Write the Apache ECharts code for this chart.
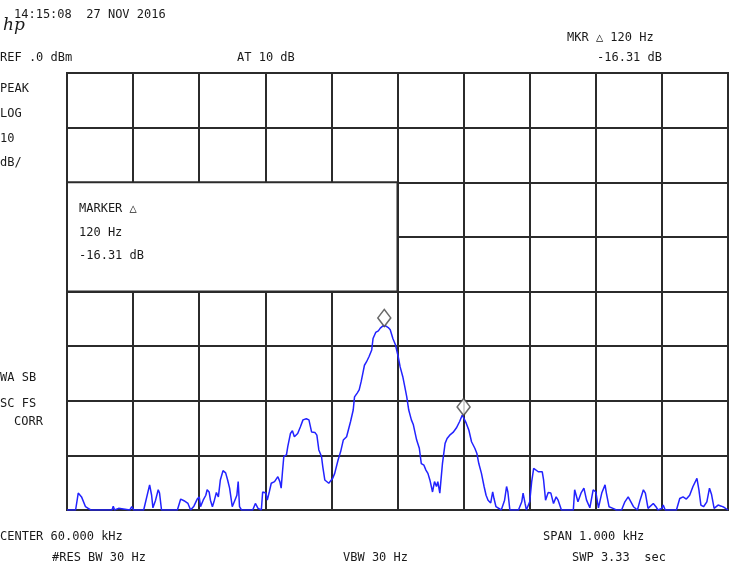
<!DOCTYPE html>
<html>
<head>
<meta charset="utf-8">
<script src="https://cdn.jsdelivr.net/npm/echarts@6/dist/echarts.min.js"></script>
<style>html,body{margin:0;padding:0;background:#fff;}#c{width:732px;height:561px;}</style>
</head>
<body>
<div id="c"></div>
<script>
var freqs = [59500,59513,59517,59522,59525,59528,59532,59536,59568,59570,59572,59578,59581,59595,59598,59601,
59616,59625,59628,59630,59634,59638,59640,59643,59667,59672,59677,59680,59683,59687,59692,59697,59700,59702,
59706,59710,59712,59715,59717,59720,59723,59726,59729,59732,59736,59740,59743,59746,59750,59754,59757,59759,
59761,59764,59781,59785,59789,59794,59796,59801,59803,59806,59809,59814,59819,59822,59824,59826,59828,59832,
59834,59838,59841,59844,59847,59849,59853,59857,59862,59866,59870,59875,59878,59881,59885,59887,59890,59893,
59896,59899,59902,59905,59910,59914,59918,59923,59925,59929,59933,59935,59939,59942,59945,59948,59950,59953,
59957,59961,59963,59967,59971,59974,59978,59982,59986,59989,59993,59997,60001,60004,60008,60011,60014,60017,
60021,60024,60026,60029,60033,60036,60040,60043,60046,60049,60053,60056,60059,60061,60064,60068,60072,60075,
60079,60084,60089,60094,60098,60100,60104,60108,60112,60117,60120,60123,60127,60131,60134,60137,60141,60144,
60146,60149,60152,60157,60162,60165,60167,60170,60183,60188,60190,60193,60195,60198,60200,60203,60206,60209,
60213,60216,60219,60221,60224,60228,60232,60236,60240,60243,60248,60266,60268,60273,60278,60282,60286,60291,
60296,60300,60304,60309,60314,60316,60320,60326,60331,60339,60344,60349,60352,60357,60363,60367,60372,60375,
60379,60387,60391,60394,60400,60402,60405,60422,60427,60432,60437,60442,60447,60453,60456,60459,60463,60468,
60472,60475,60479,60485,60490,60494,60500];
var levels = [-80,-80,-76.9,-77.6,-77.7,-79.4,-79.7,-80,-80,-79.3,-80,-79.7,-80,-80,-79.4,-80,
-80,-75.4,-77.3,-79.6,-78.2,-76.3,-76.9,-80,-80,-78.0,-78.3,-78.0,-78.8,-80,-79.3,-78.0,-77.6,-79.4,
-78.2,-77.3,-76.3,-76.7,-78.2,-79.4,-78.2,-76.8,-77.6,-74.5,-72.8,-73.2,-74.5,-76.0,-79.4,-78.2,-77.3,-74.8,
-79.4,-80,-80,-78.8,-79.7,-80,-76.7,-76.9,-78.2,-76.7,-75.1,-74.8,-73.9,-74.8,-76.0,-73.0,-70.2,-69.9,
-68.4,-66.0,-65.5,-66.6,-66.9,-66.0,-64.8,-63.5,-63.3,-63.5,-65.7,-65.8,-66.3,-69.0,-70.2,-72.1,-74.5,-74.8,
-75.1,-75.4,-74.2,-73.3,-70.9,-69.3,-67.2,-66.6,-66.3,-63.8,-61.7,-59.3,-58.6,-58.0,-56.5,-54.7,-53.5,-52.9,
-51.9,-50.7,-48.6,-47.5,-47.2,-46.7,-46.3,-46.3,-46.6,-47.0,-48.6,-49.8,-51.9,-53.8,-55.6,-57.4,-59.3,-61.7,
-63.5,-64.4,-64.1,-67.2,-68.7,-71.5,-71.8,-72.7,-73.3,-74.5,-76.7,-74.8,-75.7,-74.8,-76.9,-71.5,-67.8,-66.9,
-66.3,-65.8,-65.0,-63.8,-62.6,-62.6,-64.1,-65.4,-67.5,-68.7,-69.6,-71.5,-73.3,-75.7,-77.3,-78.2,-78.7,-76.7,
-77.9,-79.4,-79.7,-80,-78.2,-75.7,-76.7,-80,-80,-78.5,-76.9,-78.8,-80,-79.7,-78.5,-74.8,-72.4,-72.4,
-73.0,-73.3,-73.0,-74.5,-78.2,-76.8,-76.9,-78.8,-77.6,-78.2,-80,-80,-76.3,-78.5,-76.8,-76.0,-78.2,-79.6,
-76.3,-76.7,-79.6,-76.9,-75.4,-76.9,-79.4,-79.7,-80,-80,-78.5,-77.6,-77.3,-79.4,-80,-78.2,-76.3,-76.9,
-79.7,-78.8,-79.4,-80,-79.7,-79.1,-80,-80,-77.9,-77.6,-78.0,-77.3,-75.7,-74.2,-76.3,-79.1,-79.4,-78.5,
-76.0,-77.1,-79.7,-79.1,-79.3,-79.5,-80];
// Marker positions (Hz, dBm)
var markerFreqs = [59980, 60100];
var markerLevels = [-46.3, -62.6];
// Axis settings
var startFreq = 59500, stopFreq = 60500, freqDiv = 100;
var refLevel = 0, bottomLevel = -80, dbDiv = 10;

var trace = freqs.map(function (f, i) { return [f, levels[i]]; });
var markers = markerFreqs.map(function (f, i) { return [f, markerLevels[i]]; });

var FONT = "'DejaVu Sans Mono', monospace";
var TXT = '#1a1a1a';
var GRIDC = '#2b2b2b';

function t(x, y, s, extra) {
  var o = { type: 'text', left: x, top: y, z: 100,
    style: { text: s, fill: TXT, font: '12px ' + FONT, textVerticalAlign: 'middle' } };
  if (extra) { for (var k in extra) o.style[k] = extra[k]; }
  return o;
}

var chart = echarts.init(document.getElementById('c'), null, { renderer: 'canvas' });
chart.setOption({
  animation: false,
  backgroundColor: '#fff',
  grid: { left: 67, top: 73, width: 661, height: 437, show: true, borderColor: GRIDC, borderWidth: 2, backgroundColor: 'transparent' },
  xAxis: {
    type: 'value', min: startFreq, max: stopFreq, interval: freqDiv,
    axisLine: { show: false }, axisTick: { show: false }, axisLabel: { show: false },
    splitLine: { show: true, lineStyle: { color: GRIDC, width: 2 } }
  },
  yAxis: {
    type: 'value', min: bottomLevel, max: refLevel, interval: dbDiv,
    axisLine: { show: false }, axisTick: { show: false }, axisLabel: { show: false },
    splitLine: { show: true, lineStyle: { color: GRIDC, width: 2 } }
  },
  series: [
    {
      type: 'line', data: trace, showSymbol: false, z: 5,
      lineStyle: { color: '#2222ff', width: 1.5 },
      markArea: {
        silent: true,
        itemStyle: { color: '#fff', borderColor: GRIDC, borderWidth: 2 },
        label: { show: false },
        data: [[{ xAxis: startFreq, yAxis: -20 }, { xAxis: 60000, yAxis: -40 }]]
      }
    },
    {
      type: 'scatter', data: markers, z: 6,
      symbol: 'diamond', symbolSize: [13, 17], symbolOffset: [0, -8],
      itemStyle: { color: '#fff', borderColor: '#444', borderWidth: 1.5 }
    }
  ],
  graphic: [
    t(14, 9, '14:15:08  27 NOV 2016'),
    { type: 'text', left: 3, top: 17, z: 100, style: { text: 'hp', fill: TXT, font: 'italic 17px "DejaVu Serif", serif' } },
    t(0, 52, 'REF .0 dBm'),
    t(237, 52, 'AT 10 dB'),
    t(567, 32, 'MKR \u25B3 120 Hz'),
    t(597, 52, '-16.31 dB'),
    t(0, 83, 'PEAK'),
    t(0, 108, 'LOG'),
    t(0, 133, '10'),
    t(0, 157, 'dB/'),
    t(79, 203, 'MARKER \u25B3'),
    t(79, 227, '120 Hz'),
    t(79, 250, '-16.31 dB'),
    t(0, 372, 'WA SB'),
    t(0, 398, 'SC FS'),
    t(14, 416, 'CORR'),
    t(0, 531, 'CENTER 60.000 kHz'),
    t(543, 531, 'SPAN 1.000 kHz'),
    t(52, 552, '#RES BW 30 Hz'),
    t(343, 552, 'VBW 30 Hz'),
    t(572, 552, 'SWP 3.33  sec')
  ]
});
</script>
</body>
</html>
